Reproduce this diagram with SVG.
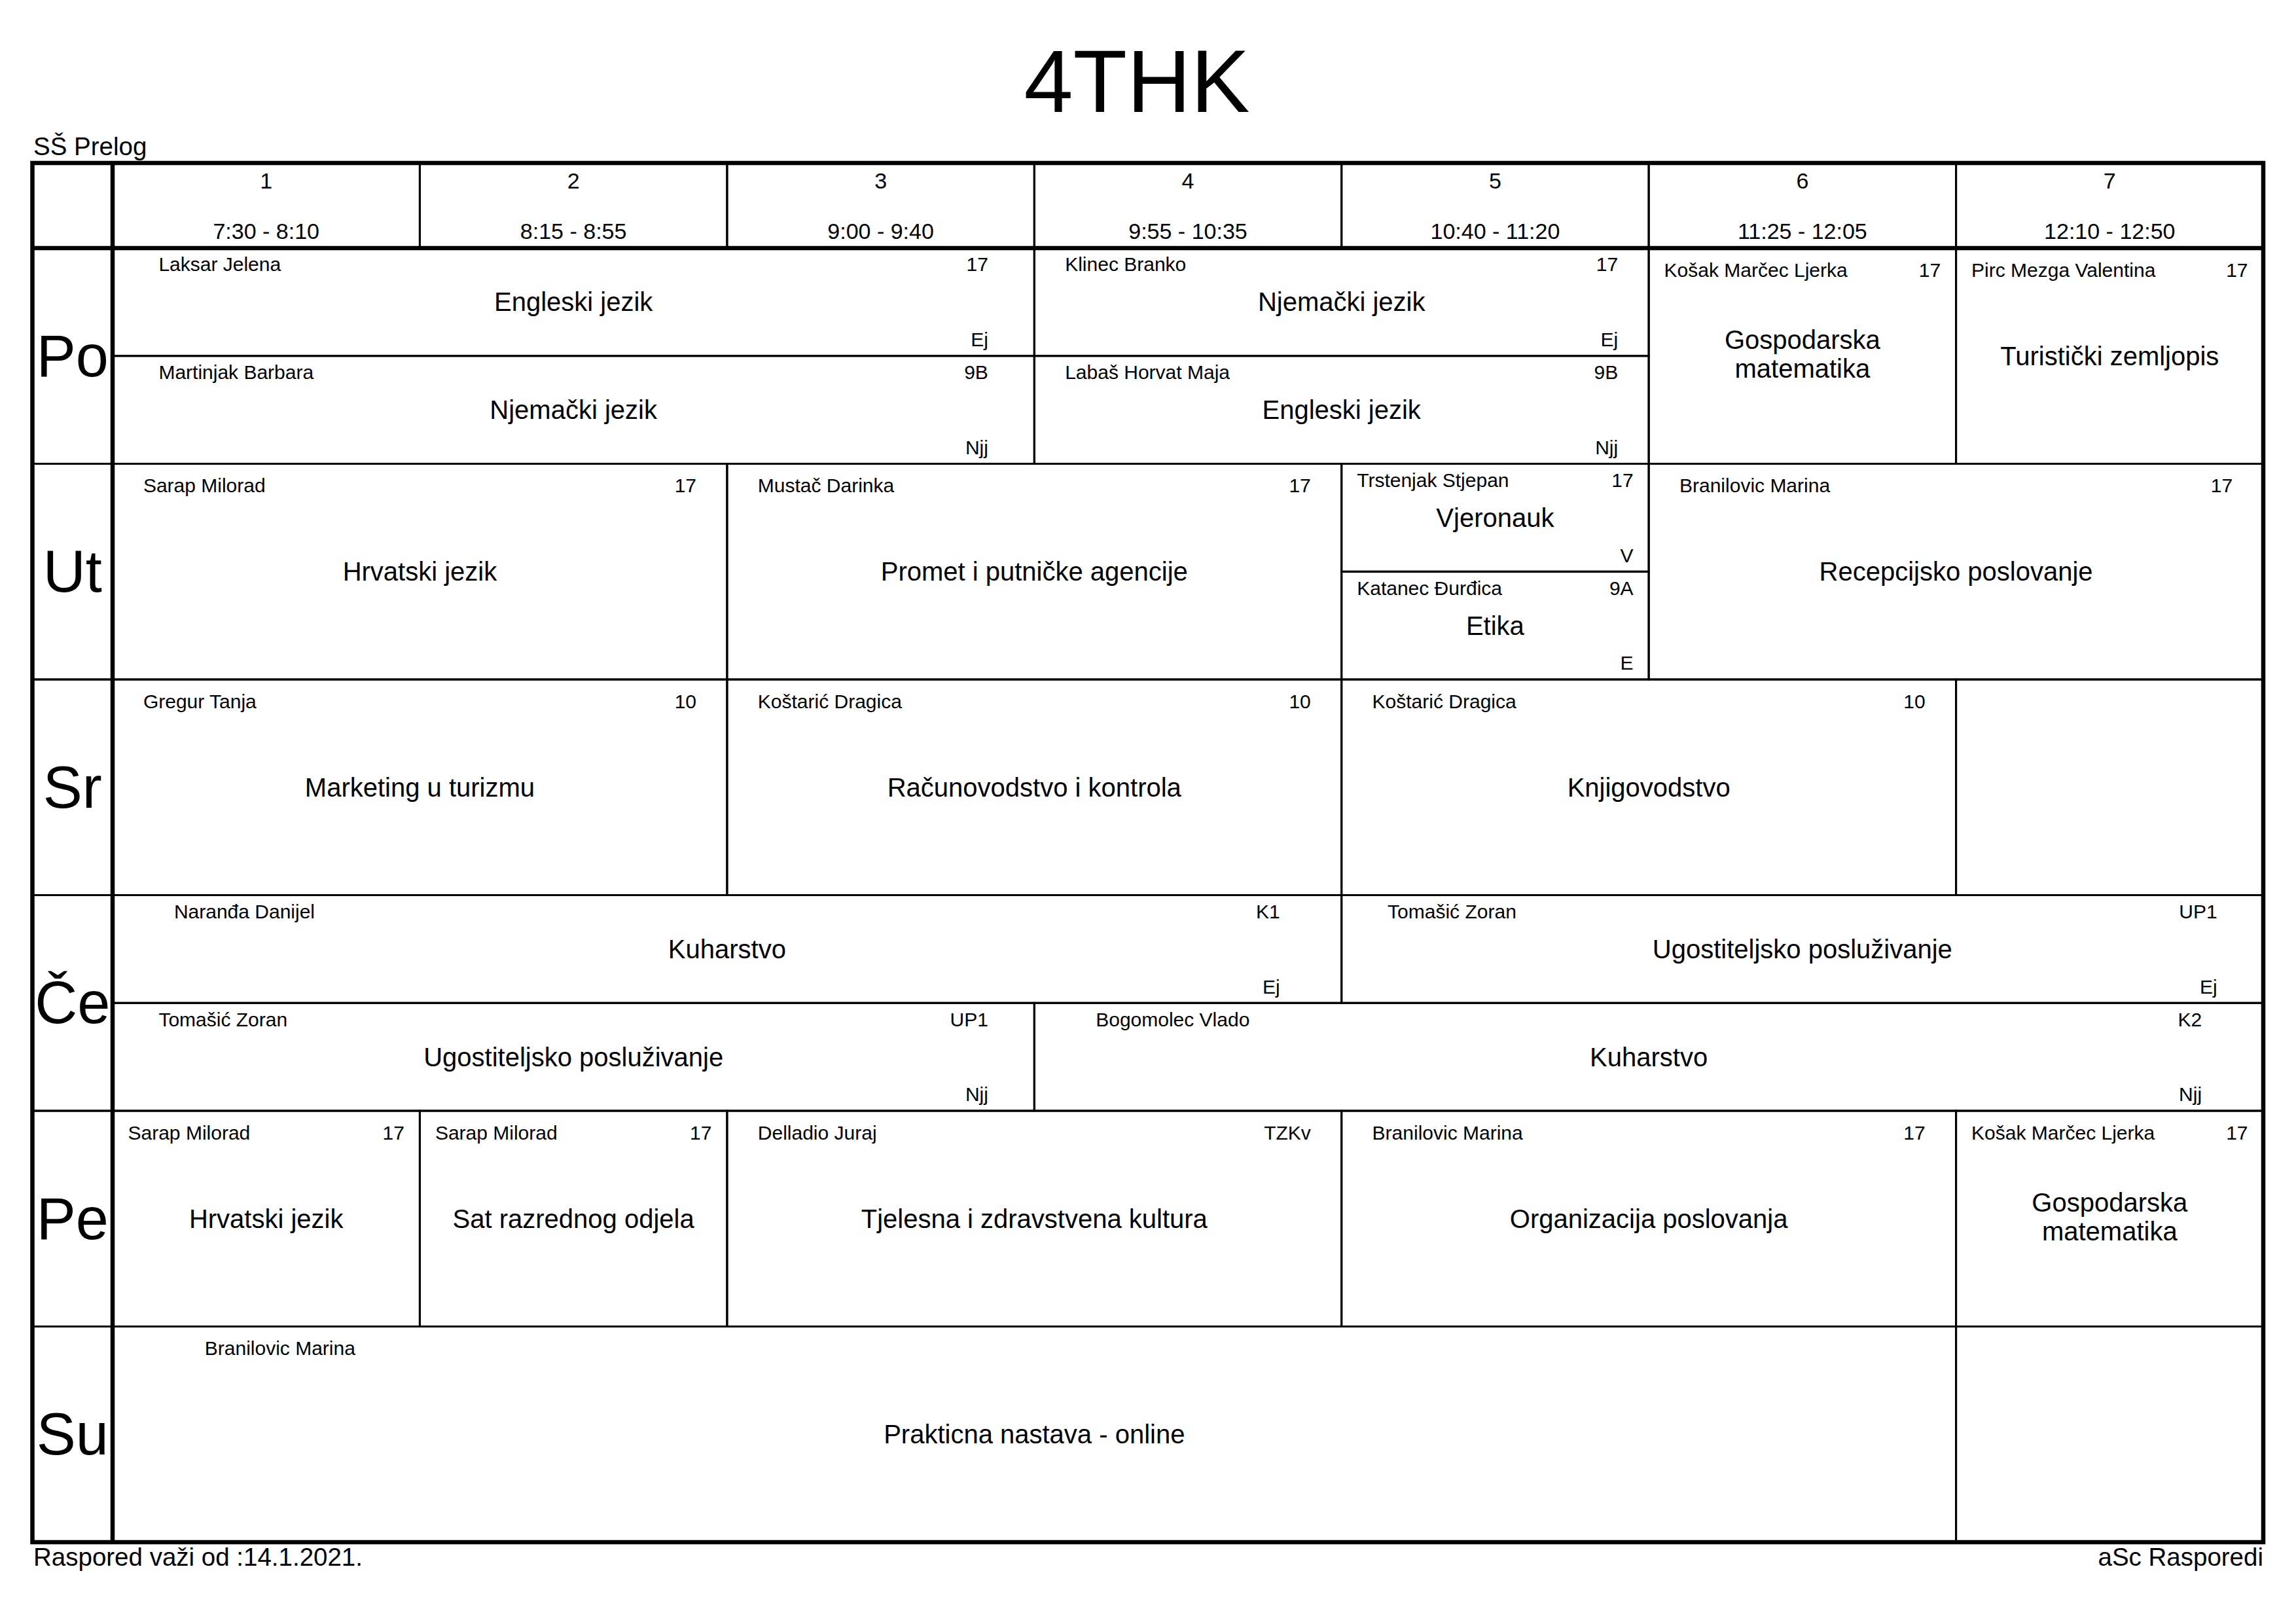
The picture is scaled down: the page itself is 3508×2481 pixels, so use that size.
<svg xmlns="http://www.w3.org/2000/svg" width="3508" height="2481" viewBox="0 0 3508 2481">
<style>
text{font-family:"Liberation Sans",Arial,sans-serif;fill:#000}
.c{fill:none;stroke:#000;stroke-width:3}
.k{fill:none;stroke:#000;stroke-width:6.5}
.t{font-size:30px}
.r{font-size:30px;text-anchor:end}
.s{font-size:40px;text-anchor:middle}
.h{font-size:34px;text-anchor:middle}
.d{font-size:90px;text-anchor:middle}
.f{font-size:38.5px}
</style>
<rect width="3508" height="2481" fill="#fff"/>
<text x="1737" y="171" font-size="135" text-anchor="middle">4THK</text>
<text class="f" x="51" y="237">SŠ Prelog</text>
<text class="f" x="51" y="2392">Raspored važi od :14.1.2021.</text>
<text class="f" x="3458" y="2392" text-anchor="end">aSc Rasporedi</text>

<g id="header">
<rect class="c" x="172" y="249" width="469.4" height="130"/>
<rect class="c" x="641.4" y="249" width="469.5" height="130"/>
<rect class="c" x="1110.9" y="249" width="469.4" height="130"/>
<rect class="c" x="1580.3" y="249" width="469.4" height="130"/>
<rect class="c" x="2049.7" y="249" width="469.4" height="130"/>
<rect class="c" x="2519.1" y="249" width="469.5" height="130"/>
<rect class="c" x="2988.6" y="249" width="469.4" height="130"/>
<text class="h" x="406.7" y="288">1</text><text class="h" x="406.7" y="365">7:30 - 8:10</text>
<text class="h" x="876.15" y="288">2</text><text class="h" x="876.15" y="365">8:15 - 8:55</text>
<text class="h" x="1345.6" y="288">3</text><text class="h" x="1345.6" y="365">9:00 - 9:40</text>
<text class="h" x="1815" y="288">4</text><text class="h" x="1815" y="365">9:55 - 10:35</text>
<text class="h" x="2284.4" y="288">5</text><text class="h" x="2284.4" y="365">10:40 - 11:20</text>
<text class="h" x="2753.85" y="288">6</text><text class="h" x="2753.85" y="365">11:25 - 12:05</text>
<text class="h" x="3223.3" y="288">7</text><text class="h" x="3223.3" y="365">12:10 - 12:50</text>
</g>

<g id="days">
<rect class="c" x="49.5" y="379" width="122.5" height="329.5"/>
<rect class="c" x="49.5" y="708.5" width="122.5" height="329.5"/>
<rect class="c" x="49.5" y="1038" width="122.5" height="329.5"/>
<rect class="c" x="49.5" y="1367.5" width="122.5" height="329.5"/>
<rect class="c" x="49.5" y="1697" width="122.5" height="329.5"/>
<rect class="c" x="49.5" y="2026.5" width="122.5" height="329.5"/>
<text class="d" x="110.75" y="574.75">Po</text>
<text class="d" x="110.75" y="904.25">Ut</text>
<text class="d" x="110.75" y="1233.75">Sr</text>
<text class="d" x="110.75" y="1563.25">Če</text>
<text class="d" x="110.75" y="1892.75">Pe</text>
<text class="d" x="110.75" y="2222.25">Su</text>
</g>

<!-- Po -->
<g id="po-1">
<rect class="c" x="172" y="379" width="1408.3" height="164.75"/>
<text class="t" x="242.4" y="414.2">Laksar Jelena</text><text class="r" x="1509.9" y="414.2">17</text>
<text class="s" x="876.15" y="475.4">Engleski jezik</text><text class="r" x="1509.9" y="529">Ej</text>
</g>
<g id="po-2">
<rect class="c" x="1580.3" y="379" width="938.8" height="164.75"/>
<text class="t" x="1627.2" y="414.2">Klinec Branko</text><text class="r" x="2472.2" y="414.2">17</text>
<text class="s" x="2049.7" y="475.4">Njemački jezik</text><text class="r" x="2472.2" y="529">Ej</text>
</g>
<g id="po-3">
<rect class="c" x="172" y="543.75" width="1408.3" height="164.75"/>
<text class="t" x="242.4" y="579">Martinjak Barbara</text><text class="r" x="1509.9" y="579">9B</text>
<text class="s" x="876.15" y="640.1">Njemački jezik</text><text class="r" x="1509.9" y="693.8">Njj</text>
</g>
<g id="po-4">
<rect class="c" x="1580.3" y="543.75" width="938.8" height="164.75"/>
<text class="t" x="1627.2" y="579">Labaš Horvat Maja</text><text class="r" x="2472.2" y="579">9B</text>
<text class="s" x="2049.7" y="640.1">Engleski jezik</text><text class="r" x="2472.2" y="693.8">Njj</text>
</g>
<g id="po-5">
<rect class="c" x="2519.1" y="379" width="469.5" height="329.5"/>
<text class="t" x="2542.6" y="422.5">Košak Marčec Ljerka</text><text class="r" x="2965.1" y="422.5">17</text>
<text class="s" x="2753.85" y="532.75">Gospodarska</text><text class="s" x="2753.85" y="576.75">matematika</text>
</g>
<g id="po-6">
<rect class="c" x="2988.6" y="379" width="469.4" height="329.5"/>
<text class="t" x="3012.1" y="422.5">Pirc Mezga Valentina</text><text class="r" x="3434.5" y="422.5">17</text>
<text class="s" x="3223.3" y="557.75">Turistički zemljopis</text>
</g>

<!-- Ut -->
<g id="ut-1">
<rect class="c" x="172" y="708.5" width="938.9" height="329.5"/>
<text class="t" x="218.9" y="752">Sarap Milorad</text><text class="r" x="1064" y="752">17</text>
<text class="s" x="641.45" y="887.25">Hrvatski jezik</text>
</g>
<g id="ut-2">
<rect class="c" x="1110.9" y="708.5" width="938.8" height="329.5"/>
<text class="t" x="1157.8" y="752">Mustač Darinka</text><text class="r" x="2002.8" y="752">17</text>
<text class="s" x="1580.3" y="887.25">Promet i putničke agencije</text>
</g>
<g id="ut-3">
<rect class="c" x="2049.7" y="708.5" width="469.4" height="164.75"/>
<text class="t" x="2073.2" y="743.7">Trstenjak Stjepan</text><text class="r" x="2495.6" y="743.7">17</text>
<text class="s" x="2284.4" y="804.9">Vjeronauk</text><text class="r" x="2495.6" y="858.5">V</text>
</g>
<g id="ut-4">
<rect class="c" x="2049.7" y="873.25" width="469.4" height="164.75"/>
<text class="t" x="2073.2" y="908.5">Katanec Đurđica</text><text class="r" x="2495.6" y="908.5">9A</text>
<text class="s" x="2284.4" y="969.6">Etika</text><text class="r" x="2495.6" y="1023.3">E</text>
</g>
<g id="ut-5">
<rect class="c" x="2519.1" y="708.5" width="938.9" height="329.5"/>
<text class="t" x="2566" y="752">Branilovic Marina</text><text class="r" x="3411.1" y="752">17</text>
<text class="s" x="2988.55" y="887.25">Recepcijsko poslovanje</text>
</g>

<!-- Sr -->
<g id="sr-1">
<rect class="c" x="172" y="1038" width="938.9" height="329.5"/>
<text class="t" x="218.9" y="1081.5">Gregur Tanja</text><text class="r" x="1064" y="1081.5">10</text>
<text class="s" x="641.45" y="1216.75">Marketing u turizmu</text>
</g>
<g id="sr-2">
<rect class="c" x="1110.9" y="1038" width="938.8" height="329.5"/>
<text class="t" x="1157.8" y="1081.5">Koštarić Dragica</text><text class="r" x="2002.8" y="1081.5">10</text>
<text class="s" x="1580.3" y="1216.75">Računovodstvo i kontrola</text>
</g>
<g id="sr-3">
<rect class="c" x="2049.7" y="1038" width="938.9" height="329.5"/>
<text class="t" x="2096.6" y="1081.5">Koštarić Dragica</text><text class="r" x="2941.7" y="1081.5">10</text>
<text class="s" x="2519.15" y="1216.75">Knjigovodstvo</text>
</g>
<g id="sr-4"><rect class="c" x="2988.6" y="1038" width="469.4" height="329.5"/></g>

<!-- Če -->
<g id="ce-1">
<rect class="c" x="172" y="1367.5" width="1877.7" height="164.75"/>
<text class="t" x="265.9" y="1402.7">Naranđa Danijel</text><text class="r" x="1955.8" y="1402.7">K1</text>
<text class="s" x="1110.85" y="1463.9">Kuharstvo</text><text class="r" x="1955.8" y="1517.5">Ej</text>
</g>
<g id="ce-2">
<rect class="c" x="2049.7" y="1367.5" width="1408.3" height="164.75"/>
<text class="t" x="2120.1" y="1402.7">Tomašić Zoran</text><text class="r" x="3387.6" y="1402.7">UP1</text>
<text class="s" x="2753.85" y="1463.9">Ugostiteljsko posluživanje</text><text class="r" x="3387.6" y="1517.5">Ej</text>
</g>
<g id="ce-3">
<rect class="c" x="172" y="1532.25" width="1408.3" height="164.75"/>
<text class="t" x="242.4" y="1567.5">Tomašić Zoran</text><text class="r" x="1509.9" y="1567.5">UP1</text>
<text class="s" x="876.15" y="1628.6">Ugostiteljsko posluživanje</text><text class="r" x="1509.9" y="1682.3">Njj</text>
</g>
<g id="ce-4">
<rect class="c" x="1580.3" y="1532.25" width="1877.7" height="164.75"/>
<text class="t" x="1674.2" y="1567.5">Bogomolec Vlado</text><text class="r" x="3364.1" y="1567.5">K2</text>
<text class="s" x="2519.15" y="1628.6">Kuharstvo</text><text class="r" x="3364.1" y="1682.3">Njj</text>
</g>

<!-- Pe -->
<g id="pe-1">
<rect class="c" x="172" y="1697" width="469.4" height="329.5"/>
<text class="t" x="195.5" y="1740.5">Sarap Milorad</text><text class="r" x="617.9" y="1740.5">17</text>
<text class="s" x="406.7" y="1875.75">Hrvatski jezik</text>
</g>
<g id="pe-2">
<rect class="c" x="641.4" y="1697" width="469.5" height="329.5"/>
<text class="t" x="664.9" y="1740.5">Sarap Milorad</text><text class="r" x="1087.4" y="1740.5">17</text>
<text class="s" x="876.15" y="1875.75">Sat razrednog odjela</text>
</g>
<g id="pe-3">
<rect class="c" x="1110.9" y="1697" width="938.8" height="329.5"/>
<text class="t" x="1157.8" y="1740.5">Delladio Juraj</text><text class="r" x="2002.8" y="1740.5">TZKv</text>
<text class="s" x="1580.3" y="1875.75">Tjelesna i zdravstvena kultura</text>
</g>
<g id="pe-4">
<rect class="c" x="2049.7" y="1697" width="938.9" height="329.5"/>
<text class="t" x="2096.6" y="1740.5">Branilovic Marina</text><text class="r" x="2941.7" y="1740.5">17</text>
<text class="s" x="2519.15" y="1875.75">Organizacija poslovanja</text>
</g>
<g id="pe-5">
<rect class="c" x="2988.6" y="1697" width="469.4" height="329.5"/>
<text class="t" x="3012.1" y="1740.5">Košak Marčec Ljerka</text><text class="r" x="3434.5" y="1740.5">17</text>
<text class="s" x="3223.3" y="1850.75">Gospodarska</text><text class="s" x="3223.3" y="1894.75">matematika</text>
</g>

<!-- Su -->
<g id="su-1">
<rect class="c" x="172" y="2026.5" width="2816.6" height="329.5"/>
<text class="t" x="312.8" y="2070">Branilovic Marina</text>
<text class="s" x="1580.3" y="2205.25">Prakticna nastava - online</text>
</g>
<g id="su-2"><rect class="c" x="2988.6" y="2026.5" width="469.4" height="329.5"/></g>

<g id="frame">
<rect class="k" x="49.5" y="249" width="3408.5" height="2107"/>
<line class="k" x1="49.5" y1="379" x2="3458" y2="379"/>
<line class="k" x1="172" y1="249" x2="172" y2="2356"/>
</g>
</svg>
